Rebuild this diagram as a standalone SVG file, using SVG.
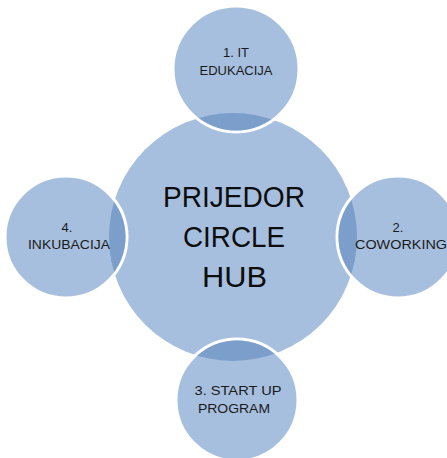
<svg xmlns="http://www.w3.org/2000/svg" width="447" height="458" viewBox="0 0 447 458">
<style>
.hub{fill:#A7BFDE;}
.sat{fill:#A7BFDE;stroke:#FFFFFF;stroke-width:3;}
.lens{fill:#7B9ECB;}
.t{font-family:"Liberation Sans",Arial,sans-serif;font-size:13px;fill:#1a1a1a;text-anchor:middle;}
.big{font-family:"Liberation Sans",Arial,sans-serif;font-size:30px;fill:#0d0d0d;text-anchor:middle;}
</style>
<defs>
<clipPath id="cTop"><circle cx="236" cy="69" r="61.5"/></clipPath>
<clipPath id="cRight"><circle cx="398" cy="237" r="59.5"/></clipPath>
<clipPath id="cBottom"><circle cx="237" cy="400" r="59.5"/></clipPath>
<clipPath id="cLeft"><circle cx="66" cy="237" r="59.5"/></clipPath>
</defs>
<rect width="447" height="458" fill="#FFFFFF"/>
<g id="hub">
<circle class="hub" cx="233" cy="237" r="124"/>
<text class="big" x="234" y="207" textLength="142" lengthAdjust="spacingAndGlyphs">PRIJEDOR</text>
<text class="big" x="234" y="247" textLength="102" lengthAdjust="spacingAndGlyphs">CIRCLE</text>
<text class="big" x="234.5" y="287" textLength="65" lengthAdjust="spacingAndGlyphs">HUB</text>
</g>
<g id="connectors"></g>
<g id="node-top">
<circle class="sat" cx="236" cy="69" r="63"/>
<circle class="lens" cx="233" cy="237" r="124" clip-path="url(#cTop)"/>
<text class="t" x="236" y="57">1. IT</text>
<text class="t" x="236" y="75" textLength="73" lengthAdjust="spacingAndGlyphs">EDUKACIJA</text>
</g>
<g id="node-right">
<circle class="sat" cx="398" cy="237" r="61"/>
<circle class="lens" cx="233" cy="237" r="124" clip-path="url(#cRight)"/>
<text class="t" x="398" y="232">2.</text>
<text class="t" x="401" y="249" textLength="92" lengthAdjust="spacingAndGlyphs">COWORKING</text>
</g>
<g id="node-bottom">
<circle class="sat" cx="237" cy="400" r="61"/>
<circle class="lens" cx="233" cy="237" r="124" clip-path="url(#cBottom)"/>
<text class="t" x="238" y="395" textLength="87" lengthAdjust="spacingAndGlyphs">3. START UP</text>
<text class="t" x="234" y="413" textLength="72" lengthAdjust="spacingAndGlyphs">PROGRAM</text>
</g>
<g id="node-left">
<circle class="sat" cx="66" cy="237" r="61"/>
<circle class="lens" cx="233" cy="237" r="124" clip-path="url(#cLeft)"/>
<text class="t" x="67" y="232">4.</text>
<text class="t" x="69" y="249" textLength="82" lengthAdjust="spacingAndGlyphs">INKUBACIJA</text>
</g>
</svg>
